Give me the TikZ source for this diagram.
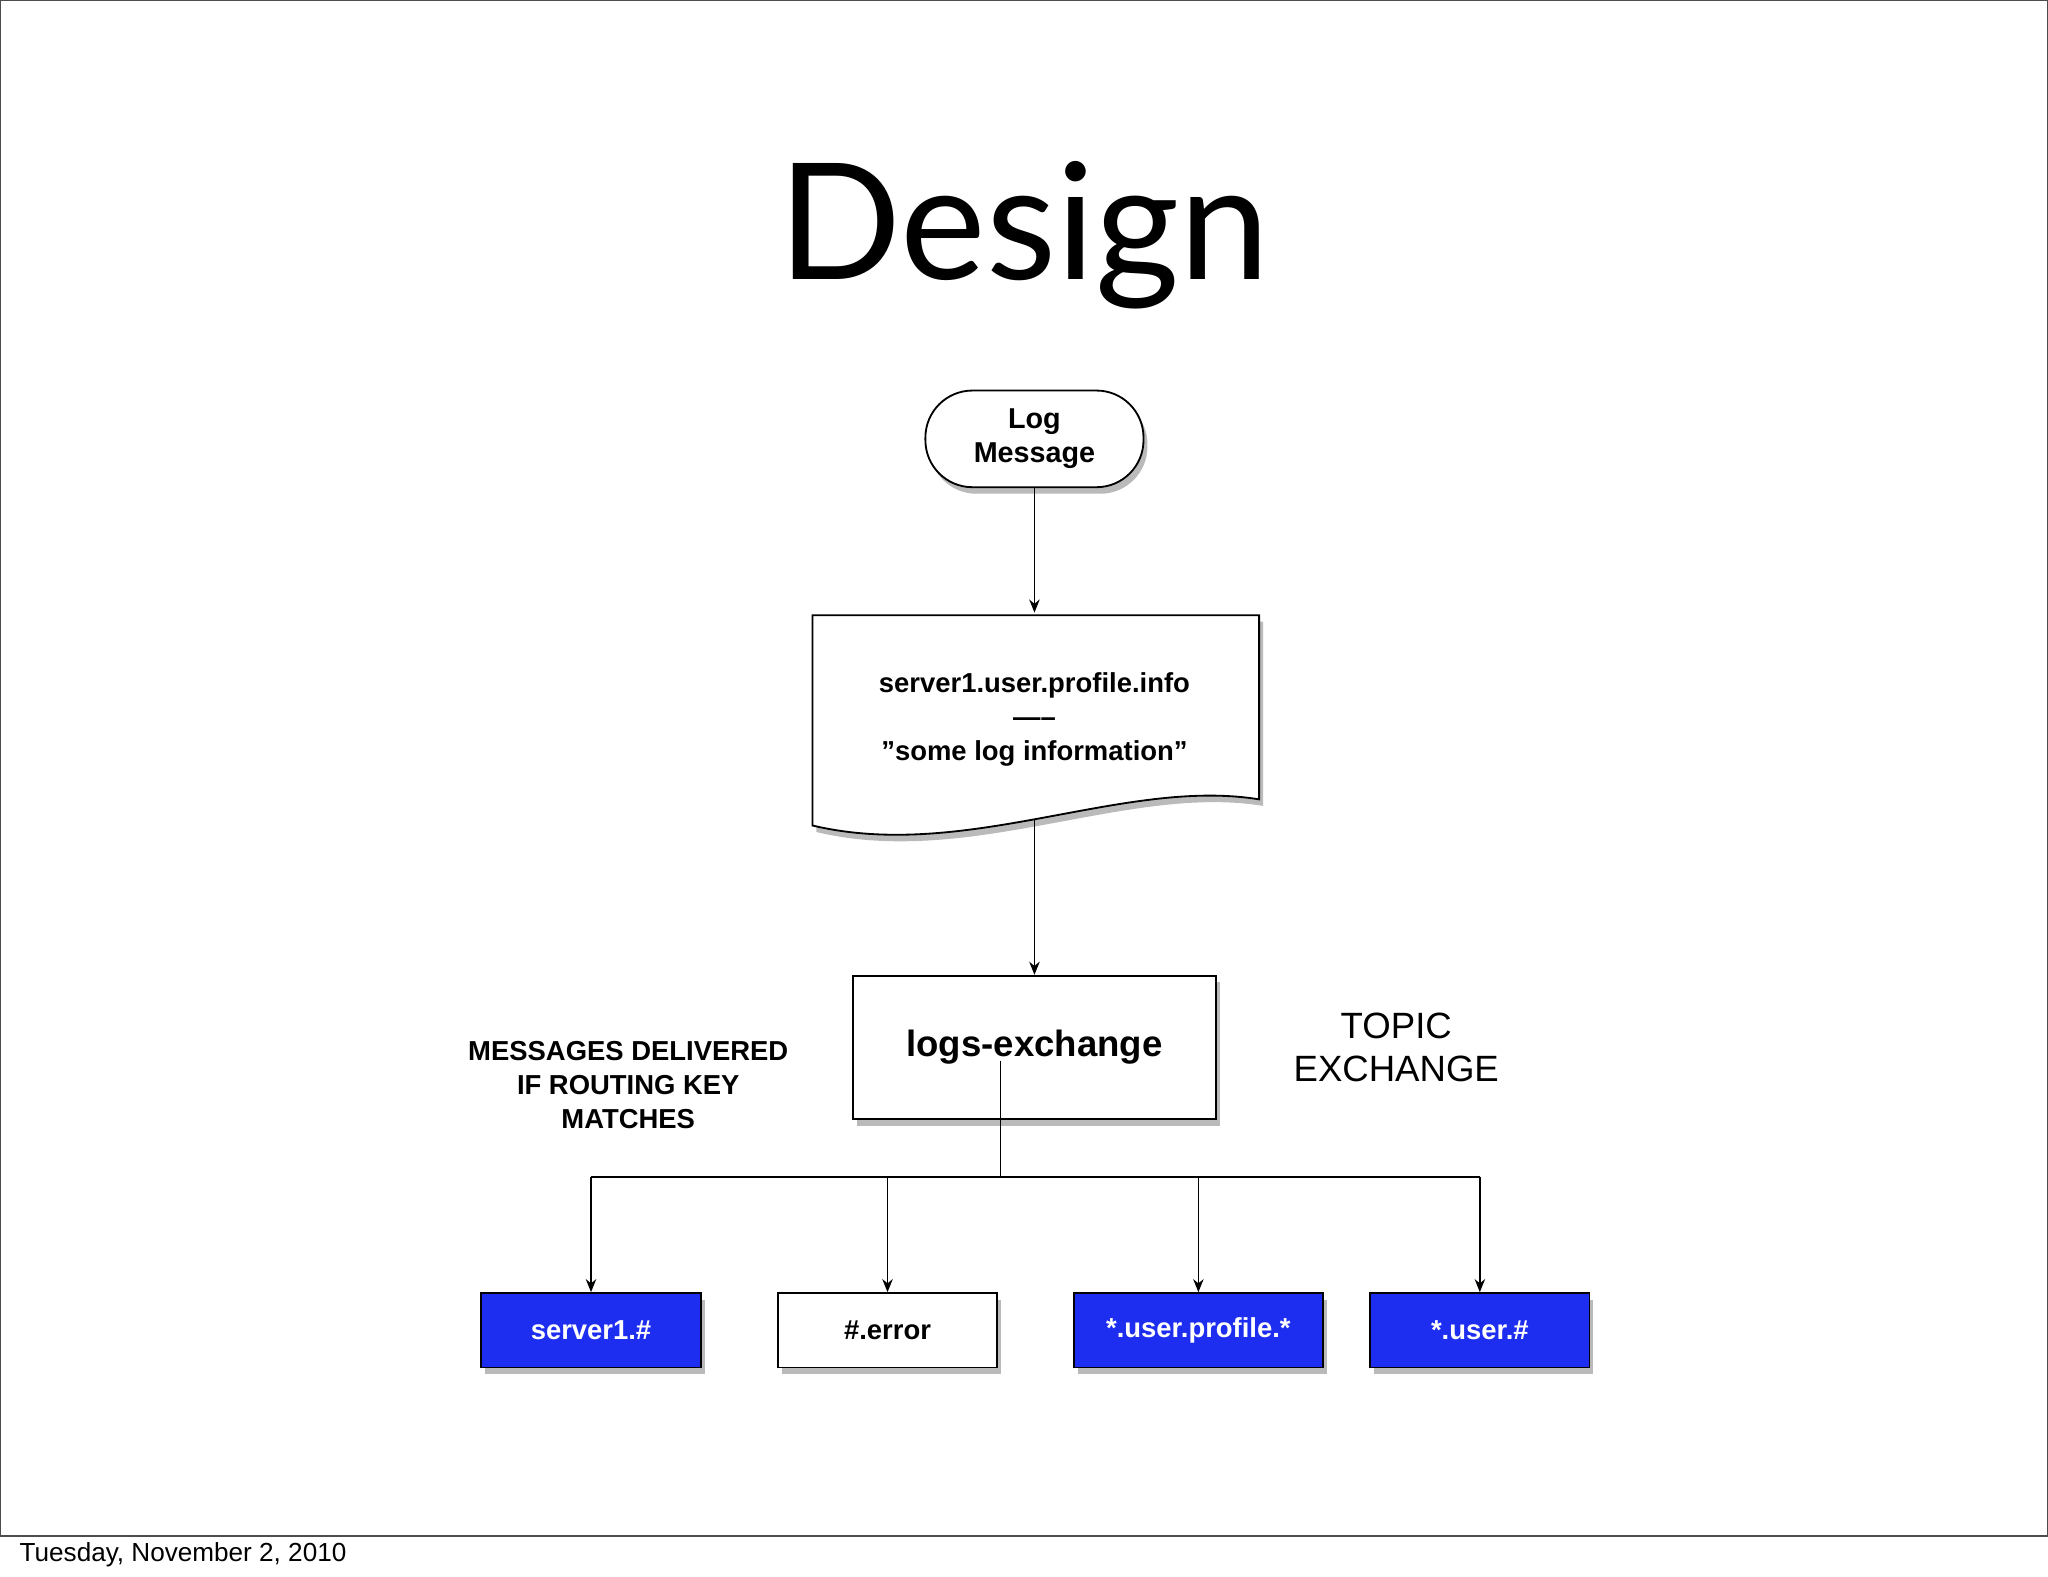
\documentclass[tikz,border=0pt]{standalone}
\usepackage{fontspec}
\setmainfont{Liberation Sans}
\newfontfamily\titlefont{Lato}
\usetikzlibrary{shadows,arrows.meta}
\definecolor{qblue}{RGB}{30,46,240}
\tikzset{
  conn/.style={draw=black, line width=0.6pt, -{Stealth[length=5pt,width=4pt]}},
  shad/.style={drop shadow={shadow xshift=1.5pt, shadow yshift=-2.5pt, fill=black!45, opacity=0.6}},
  qbox/.style={draw=black, line width=0.7pt, minimum width=84pt, minimum height=28.5pt, font=\bfseries\fontsize{10.5}{12}\selectfont, shad},
  bluebox/.style={qbox, fill=qblue, text=white},
  whitebox/.style={qbox, fill=white, text=black},
}
\begin{document}
\begin{tikzpicture}[x=0.5pt,y=-0.5pt]
\useasboundingbox (0,0) rectangle (1568,1207);
\fill[white] (0,0) rectangle (1568,1207);
\draw[black!70, line width=0.6pt] (0.5,0.5) rectangle (1567.5,1176);
\node[anchor=west, font=\fontsize{10}{12}\selectfont] (foot) at (8,1190) {Tuesday, November 2, 2010};
\node[font=\titlefont\fontsize{62}{70}\selectfont] (title) at (784,180) {Design};

% Log Message terminal
\node[draw, line width=0.7pt, fill=white, rounded corners=18pt, minimum width=83.5pt, minimum height=37pt, align=center, shad, font=\bfseries\fontsize{11}{13}\selectfont] (log) at (792,336) {Log\\Message};

% document shape
\fill[black!45, opacity=0.6, xshift=1.5pt, yshift=-2.5pt] (622,471) -- (964,471) -- (964,612) .. controls (860,595) and (740,660) .. (622,632) -- cycle;
\filldraw[fill=white, draw=black, line width=0.7pt] (622,471) -- (964,471) -- (964,612) .. controls (860,595) and (740,660) .. (622,632) -- cycle;
\node[align=center, font=\bfseries\fontsize{10.5}{13}\selectfont] (doc) at (792,551) {server1.user.profile.info\\-----\\"some log information"};
\coordinate (doctop) at (792,469);
\coordinate (docbot) at (792,628);

% exchange
\node[draw, line width=0.7pt, fill=white, minimum width=139pt, minimum height=55pt, shad] (ex) at (792,802) {};
\node[font=\bfseries\fontsize{14}{16}\selectfont] (exl) at (792,802) {logs-exchange};

\node[align=center, font=\bfseries\fontsize{10.5}{13}\selectfont] (msg) at (481,831) {MESSAGES DELIVERED\\IF ROUTING KEY\\MATCHES};
\node[align=center, font=\fontsize{14}{16.5}\selectfont] (topic) at (1069,802) {TOPIC\\EXCHANGE};

% queues
\node[bluebox] (q1) at (452.5,1018.5) {server1.\#};
\node[whitebox] (q2) at (679.5,1018.5) {\#.error};
\node[bluebox, minimum width=95.5pt] (q3) at (917.5,1018.5) {*.user.profile.*};
\node[bluebox] (q4) at (1133,1018.5) {*.user.\#};

\draw[conn] (log) -- (doctop);
\draw[conn] (docbot) -- (ex.north);

\coordinate (split) at (766,812);
\coordinate (hub) at (766,901);
\draw[line width=0.6pt] (split) -- (hub);
\draw[line width=0.6pt] (hub) -- (q1.north |- hub) -- (q1.north |- hub);
\draw[line width=0.6pt] (q1.north |- hub) -- (q4.north |- hub);
\foreach \q in {q1,q2,q3,q4}{ \draw[conn] (\q.north |- hub) -- (\q.north); }
\end{tikzpicture}
\end{document}
